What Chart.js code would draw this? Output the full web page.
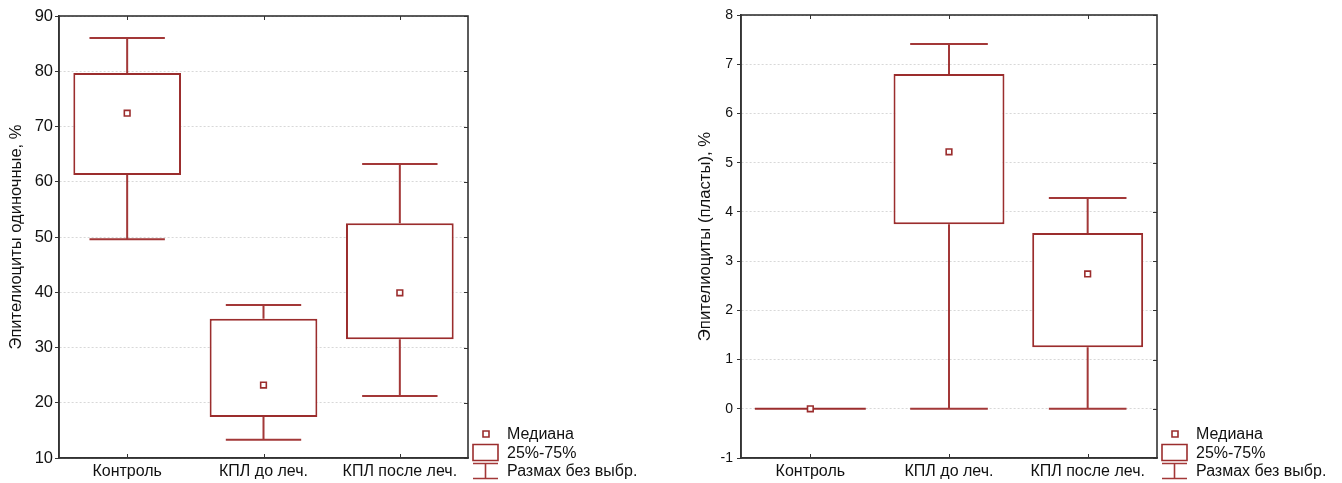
<!DOCTYPE html>
<html>
<head>
<meta charset="utf-8">
<script src="https://cdn.jsdelivr.net/npm/chart.js@4.4.1/dist/chart.umd.min.js"></script>
<style>
  html, body { margin: 0; padding: 0; background: #fff; }
  #wrap { position: relative; width: 1342px; height: 483px; overflow: hidden; }
  #c1 { position: absolute; left: 0; top: 0; }
  #c2 { position: absolute; left: 680px; top: 0; }
</style>
</head>
<body>
<div id="wrap">
  <canvas id="c1" width="680" height="483"></canvas>
  <canvas id="c2" width="662" height="483"></canvas>
</div>
<script>
// ---------- data ----------
const categories = ['Контроль', 'КПЛ до леч.', 'КПЛ после леч.'];

const leftTitle = 'Эпителиоциты одиночные, %';
const leftMin    = [49.6, 13.3, 21.2];
const leftQ1     = [61.2, 17.4, 31.5];
const leftMedian = [72.4, 23.2, 39.9];
const leftQ3     = [79.7, 35.2, 52.5];
const leftMax    = [86.0, 37.7, 63.2];
const leftAxis   = [10, 90, 10];   // min, max, step

const rightTitle = 'Эпителиоциты (пласты), %';
const rightMin    = [0, 0, 0];
const rightQ1     = [0, 3.75, 1.25];
const rightMedian = [0, 5.22, 2.74];
const rightQ3     = [0, 6.80, 3.57];
const rightMax    = [0, 7.41, 4.28];
const rightAxis   = [-1, 8, 1];

const legendLabels = ['Медиана', '25%-75%', 'Размах без выбр.'];

// ---------- styles ----------
const FONT = "'Liberation Sans', Arial, sans-serif";
const BOX_COLOR = '#9b2d2d';
const WHISKER_COLOR = '#a33838';
const FRAME_COLOR = '#333333';

const boxExtras = {
  id: 'boxExtras',
  beforeDatasetsDraw(chart, args, o) {
    const { ctx, scales: { x, y } } = chart;
    const meta = chart.getDatasetMeta(1);
    ctx.save();
    ctx.lineWidth = 2;
    meta.data.forEach((bar, i) => {
      const cx = x.getPixelForValue(i);
      const half = bar.width * 0.35;
      const pMin = y.getPixelForValue(o.min[i]);
      const pMax = y.getPixelForValue(o.max[i]);
      const pQ1 = y.getPixelForValue(o.q1[i]);
      const pQ3 = y.getPixelForValue(o.q3[i]);
      ctx.strokeStyle = WHISKER_COLOR;
      ctx.beginPath();
      if (pMax < pQ3) { ctx.moveTo(cx, pQ3); ctx.lineTo(cx, pMax); }
      if (pMin > pQ1) { ctx.moveTo(cx, pQ1); ctx.lineTo(cx, pMin); }
      if (o.q1[i] !== o.q3[i]) {
        ctx.moveTo(cx - half, pMax); ctx.lineTo(cx + half, pMax);
        ctx.moveTo(cx - half, pMin); ctx.lineTo(cx + half, pMin);
      }
      ctx.stroke();
      if (o.q1[i] === o.q3[i]) {
        ctx.strokeStyle = BOX_COLOR;
        ctx.beginPath();
        ctx.moveTo(cx - bar.width / 2, pQ1); ctx.lineTo(cx + bar.width / 2, pQ1);
        ctx.stroke();
      }
    });
    ctx.restore();
  },
  afterDraw(chart, args, o) {
    const { ctx, chartArea: a, scales: { x, y } } = chart;
    ctx.save();
    // frame
    ctx.strokeStyle = FRAME_COLOR;
    ctx.lineWidth = 1.6;
    ctx.strokeRect(a.left, a.top, a.right - a.left, a.bottom - a.top);
    // inner ticks
    ctx.lineWidth = 1;
    ctx.beginPath();
    y.ticks.forEach(t => {
      const py = Math.round(y.getPixelForValue(t.value)) + 0.5;
      ctx.moveTo(a.right - 4, py); ctx.lineTo(a.right, py);
    });
    categories.forEach((c, i) => {
      const px = Math.round(x.getPixelForValue(i)) + 0.5;
      ctx.moveTo(px, a.top); ctx.lineTo(px, a.top + 4);
      ctx.moveTo(px, a.bottom); ctx.lineTo(px, a.bottom - 4);
    });
    ctx.stroke();
    // legend
    const lx = a.right + 5;
    const rows = [a.bottom - 24, a.bottom - 5.5, a.bottom + 13];
    ctx.strokeStyle = BOX_COLOR;
    ctx.lineWidth = 1.6;
    ctx.fillStyle = '#fff';
    ctx.beginPath();
    ctx.rect(lx + 10, rows[0] - 3, 6, 6);
    ctx.fill(); ctx.stroke();
    ctx.beginPath();
    ctx.rect(lx, rows[1] - 8, 25, 16);
    ctx.fill(); ctx.stroke();
    ctx.strokeStyle = WHISKER_COLOR;
    ctx.beginPath();
    ctx.moveTo(lx, rows[2] - 7.5); ctx.lineTo(lx + 25, rows[2] - 7.5);
    ctx.moveTo(lx, rows[2] + 7.5); ctx.lineTo(lx + 25, rows[2] + 7.5);
    ctx.moveTo(lx + 12.5, rows[2] - 7.5); ctx.lineTo(lx + 12.5, rows[2] + 7.5);
    ctx.stroke();
    ctx.fillStyle = '#111';
    ctx.font = '16px ' + FONT;
    ctx.textBaseline = 'middle';
    ctx.textAlign = 'left';
    legendLabels.forEach((t, i) => ctx.fillText(t, lx + 34, rows[i] + 1));
    ctx.restore();
  }
};

function makeChart(id, cfg) {
  return new Chart(document.getElementById(id), {
    data: {
      labels: categories,
      datasets: [
        {
          type: 'line', data: cfg.median, showLine: false, order: 0,
          pointStyle: 'rect', pointRadius: 4, pointHoverRadius: 4,
          pointBackgroundColor: '#fff', pointBorderColor: BOX_COLOR, pointBorderWidth: 1.6
        },
        {
          type: 'bar', order: 1,
          data: cfg.q1.map((v, i) => [v, cfg.q3[i]]),
          backgroundColor: '#fff', borderColor: BOX_COLOR, borderWidth: 2,
          borderSkipped: false, categoryPercentage: 1, barPercentage: cfg.barPct
        }
      ]
    },
    options: {
      responsive: false, animation: false,
      layout: { padding: { top: cfg.top, right: cfg.right, left: 0, bottom: 0 } },
      plugins: {
        legend: { display: false }, tooltip: { enabled: false },
        boxExtras: { min: cfg.min, max: cfg.max, q1: cfg.q1, q3: cfg.q3 }
      },
      scales: {
        x: {
          type: 'category', offset: true,
          grid: { display: false, drawTicks: false },
          border: { display: true, color: FRAME_COLOR, width: 1.6 },
          ticks: { color: '#111', font: { family: FONT, size: 16 }, padding: 4, maxRotation: 0 },
          afterFit(s) { s.height = 25; }
        },
        y: {
          min: cfg.axis[0], max: cfg.axis[1],
          ticks: { stepSize: cfg.axis[2], color: '#111', font: { family: FONT, size: cfg.tickSize }, padding: cfg.tickPad },
          grid: { color: '#d8d8d8', drawTicks: true, tickLength: 4, tickColor: FRAME_COLOR, tickWidth: 1, tickBorderDash: [] },
          border: { display: true, color: FRAME_COLOR, width: 1.6, dash: [2, 2] },
          title: { display: true, text: cfg.title, color: '#111', font: { family: FONT, size: cfg.titleSize }, padding: { top: cfg.titlePad, bottom: 0 } },
          afterFit(s) { s.width = cfg.yWidth; }
        }
      }
    },
    plugins: [boxExtras]
  });
}

makeChart('c1', {
  min: leftMin, q1: leftQ1, median: leftMedian, q3: leftQ3, max: leftMax,
  axis: leftAxis, title: leftTitle,
  top: 16, right: 212, yWidth: 59, barPct: 0.79, tickSize: 16.5, tickPad: 2, titlePad: 7, titleSize: 16.5
});
makeChart('c2', {
  min: rightMin, q1: rightQ1, median: rightMedian, q3: rightQ3, max: rightMax,
  axis: rightAxis, title: rightTitle,
  top: 15, right: 185, yWidth: 61, barPct: 0.8, tickSize: 14, tickPad: 4, titlePad: 15, titleSize: 16.7
});
</script>
</body>
</html>
